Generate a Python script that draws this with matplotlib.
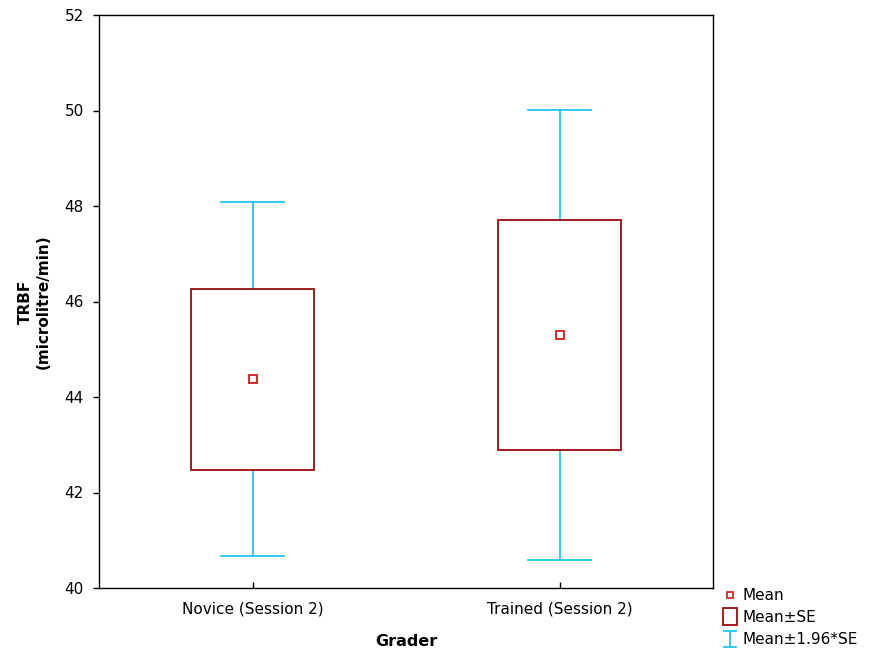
import matplotlib
matplotlib.use("Agg")
import matplotlib.pyplot as plt
from matplotlib.patches import Rectangle
from matplotlib.lines import Line2D

plt.rcParams['font.family'] = ['DejaVu Sans']

# Grader groups and summary statistics of TRBF
graders = ["Novice (Session 2)", "Trained (Session 2)"]
means = [44.37, 45.30]
se = [1.89, 2.40]
y_ticks = [40, 42, 44, 46, 48, 50, 52]

box_col = "#A31C1C"
mean_col = "#D42A2A"
whisk_col = "#1CC6F2"

W, H = 871, 654
fig = plt.figure(figsize=(W / 100, H / 100), dpi=100)
ax = fig.add_axes([99 / W, (H - 588) / H, 614 / W, 573 / H])

positions = [0.5 + i for i in range(len(graders))]
box_w = 0.40
cap_w = 0.205

for x, m, s in zip(positions, means, se):
    lo1, hi1 = m - s, m + s
    lo2, hi2 = m - 1.96 * s, m + 1.96 * s
    # whiskers (mean ± 1.96*SE)
    ax.plot([x, x], [hi1, hi2], color=whisk_col, lw=1.3, zorder=2)
    ax.plot([x, x], [lo2, lo1], color=whisk_col, lw=1.3, zorder=2)
    ax.plot([x - cap_w / 2, x + cap_w / 2], [hi2, hi2], color=whisk_col, lw=1.3, zorder=2)
    ax.plot([x - cap_w / 2, x + cap_w / 2], [lo2, lo2], color=whisk_col, lw=1.3, zorder=2)
    # box (mean ± SE)
    ax.add_patch(Rectangle((x - box_w / 2, lo1), box_w, hi1 - lo1,
                           fill=False, edgecolor=box_col, lw=1.4, zorder=3))
    # mean marker
    ax.plot([x], [m], marker="s", ms=6, mfc="white", mec=mean_col, mew=1.4, zorder=4)

ax.set_xlim(0, len(graders))
ax.set_ylim(40, 52)
ax.set_yticks(y_ticks)
ax.set_xticks(positions)
ax.set_xticklabels(graders)
ax.tick_params(axis="y", direction="out", length=4, width=1, labelsize=11, pad=7)
ax.tick_params(axis="x", direction="in", length=4, width=1, labelsize=11, pad=10)
for sp in ax.spines.values():
    sp.set_linewidth(1.0)
    sp.set_color("black")

ax.set_xlabel("Grader", fontsize=11.5, fontweight="bold", labelpad=12)
ax.set_ylabel("TRBF\n(microlitre/min)", fontsize=11, fontweight="bold",
              labelpad=10, linespacing=1.2)

# legend drawn at the lower right, outside the plotting area
def fx(px):
    return px / W

def fy(py):
    return 1 - py / H

fig.add_artist(Line2D([fx(730)], [fy(595)], marker="s", ms=5, mfc="white",
                      mec=mean_col, mew=1.3, transform=fig.transFigure))
fig.add_artist(Rectangle((fx(723), fy(625)), 14 / W, 17 / H, fill=False,
                         edgecolor=box_col, lw=1.4, transform=fig.transFigure))
fig.add_artist(Line2D([fx(730), fx(730)], [fy(631), fy(647)], color=whisk_col,
                      lw=1.3, transform=fig.transFigure))
fig.add_artist(Line2D([fx(724), fx(736)], [fy(631), fy(631)], color=whisk_col,
                      lw=1.3, transform=fig.transFigure))
fig.add_artist(Line2D([fx(724), fx(736)], [fy(647), fy(647)], color=whisk_col,
                      lw=1.3, transform=fig.transFigure))
for label, py in [("Mean", 595), ("Mean±SE", 617), ("Mean±1.96*SE", 639)]:
    fig.text(fx(742), fy(py), label, fontsize=11, va="center", ha="left")

fig.savefig("out.png", dpi=100)
